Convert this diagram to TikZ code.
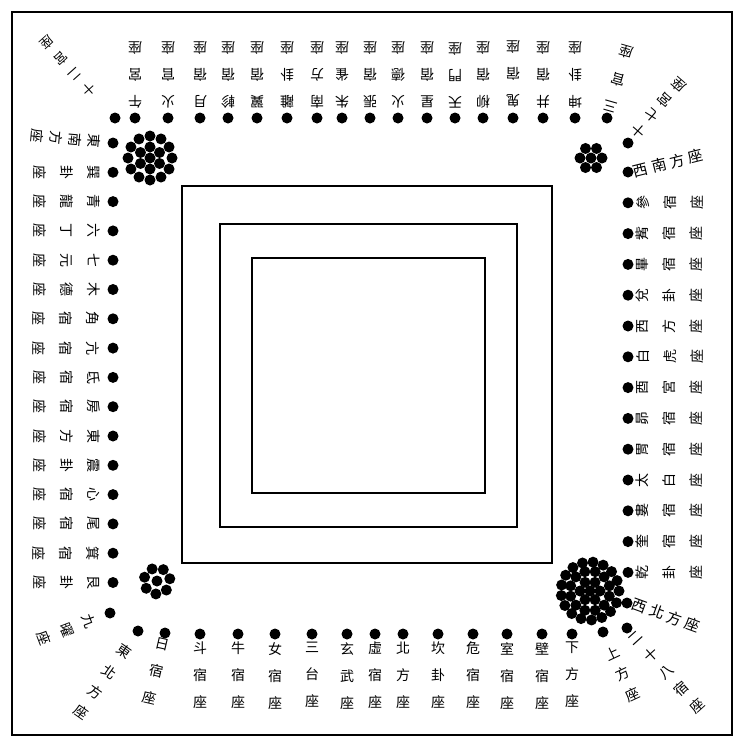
\documentclass[tikz,border=0pt]{standalone}
\usepackage{fontspec}
\newfontfamily\cjk{Noto Sans CJK TC}
\usetikzlibrary{calc}

\tikzset{
  dot/.style={circle, fill=black, inner sep=0pt, minimum size=11pt},
  seat/.style={font=\cjk\fontsize{14}{27}\selectfont, align=center, inner sep=0pt, anchor=north},
  tight/.style={font=\cjk\fontsize{14}{#1}\selectfont},
  flat/.style={font=\cjk\fontsize{15}{15}\selectfont, inner sep=0pt, anchor=west},
  wall/.style={line width=2pt},
}

\begin{document}
\begin{tikzpicture}[x=1pt, y=-1pt]
\useasboundingbox (0,0) rectangle (747,742);

% --- FRAME AND ALTAR ---
\draw[line width=2.6pt] (12,12) rectangle (732,735);
\draw[wall] (182,186) rectangle (552,563);
\draw[wall] (220,224) rectangle (517,527);
\draw[wall] (252,258) rectangle (485,493);

% --- TOP ROW (south) ---
\foreach \x/\t [count=\i] in {135/{午\\宮\\座}, 168/{火\\官\\座}, 200/{月\\宿\\座}, 228/{軫\\宿\\座},
    257/{翼\\宿\\座}, 287/{離\\卦\\座}, 317/{南\\方\\座}, 342/{朱\\雀\\座}, 370/{張\\宿\\座},
    398/{火\\德\\座}, 427/{星\\宿\\座}, 455/{天\\門\\座}, 483/{柳\\宿\\座}, 513/{鬼\\宿\\座},
    543/{井\\宿\\座}, 575/{坤\\卦\\座}}{
  \node[dot] (t\i) at (\x,118) {};
  \node[seat, rotate=180] (tl\i) at ([yshift=10pt]t\i.center) {\t};
}

% --- LEFT COLUMN (east) ---
\foreach \t [count=\i] in {{巽\\卦\\座}, {青\\龍\\座}, {六\\丁\\座}, {七\\元\\座}, {木\\德\\座},
    {角\\宿\\座}, {亢\\宿\\座}, {氐\\宿\\座}, {房\\宿\\座}, {東\\方\\座}, {震\\卦\\座},
    {心\\宿\\座}, {尾\\宿\\座}, {箕\\宿\\座}, {艮\\卦\\座}}{
  \node[dot] (l\i) at (113,{143+29.3*\i}) {};
  \node[seat, rotate=-90] (ll\i) at ([xshift=-13pt]l\i.center) {\t};
}

% --- RIGHT COLUMN (west) ---
\foreach \t [count=\i] in {{參\\宿\\座}, {觜\\宿\\座}, {畢\\宿\\座}, {兌\\卦\\座}, {西\\方\\座},
    {白\\虎\\座}, {酉\\宮\\座}, {昴\\宿\\座}, {胃\\宿\\座}, {太\\白\\座}, {婁\\宿\\座},
    {奎\\宿\\座}, {乾\\卦\\座}}{
  \node[dot] (r\i) at (628,{172+30.8*\i}) {};
  \node[seat, rotate=90] (rl\i) at ([xshift=8pt]r\i.center) {\t};
}

% --- BOTTOM ROW (north) ---
\foreach \x/\t [count=\i] in {200/{斗\\宿\\座}, 238/{牛\\宿\\座}, 275/{女\\宿\\座}, 312/{三\\台\\座},
    347/{玄\\武\\座}, 375/{虛\\宿\\座}, 403/{北\\方\\座}, 438/{坎\\卦\\座}, 473/{危\\宿\\座},
    507/{室\\宿\\座}, 542/{壁\\宿\\座}, 572/{下\\方\\座}}{
  \node[dot] (b\i) at (\x,634) {};
  \node[seat] (bl\i) at ([yshift=-8pt]b\i.center) {\t};
}

% --- CORNER SEATS ---
\node[dot] (nw) at (115,118) {};
\node[seat, font=\cjk\fontsize{13}{21}\selectfont, rotate=222] (nwl) at ([shift={(132:32pt)}]nw.center) {十\\二\\宮\\座};
\node[dot] (se) at (113,143) {};
\node[seat, tight=19, rotate=-95] (sel) at ([shift={(175:12pt)}]se.center) {東\\南\\方\\座};

\node[dot] (ne) at (607,118) {};
\node[seat, tight=29, rotate=164] (nel) at ([shift={(74:6pt)}]ne.center) {三\\官\\座};
\node[dot] (ne2) at (628,143) {};
\node[seat, tight=20, rotate=139] (ne2l) at ([shift={(49:10pt)}]ne2.center) {十\\七\\宮\\座};
\node[dot] (sw) at (628,172) {};
\node[flat, rotate=14] (swl) at ([xshift=5pt]sw.center) {西\hspace{4pt}南\hspace{4pt}方\hspace{4pt}座};

\node[dot] (nwb) at (627,603) {};
\node[flat, rotate=-20] (nwbl) at ([xshift=5pt]nwb.center) {西\hspace{4pt}北\hspace{4pt}方\hspace{4pt}座};
\node[dot] (up) at (603,632) {};
\node[seat, tight=23, rotate=25] (upl) at ([shift={(-65:17pt)}]up.center) {上\\方\\座};
\node[dot] (xs) at (627,628) {};
\node[seat, tight=23, rotate=42] (xsl) at ([shift={(-48:8pt)}]xs.center) {二\\十\\八\\宿\\座};

\node[dot] (jy) at (110,613) {};
\node[seat, tight=24, rotate=-69] (jyl) at ([shift={(201:16pt)}]jy.center) {九\\曜\\座};
\node[dot] (ne3) at (138,631) {};
\node[seat, tight=25, rotate=-35] (ne3l) at ([shift={(235:18pt)}]ne3.center) {東\\北\\方\\座};
\node[dot] (ri) at (165,633) {};
\node[seat, tight=28, rotate=-13] (ril) at ([shift={(257:5pt)}]ri.center) {日\\宿\\座};

% --- STAR CLUSTERS ---
\coordinate (ctl) at (150,158);
\coordinate (ctr) at (591,158);
\coordinate (cbl) at (157,581);
\coordinate (cbr) at (590,591);
\fill (ctl) circle (5.5pt);
\foreach \a in {30,90,...,330} \fill ([shift={(\a:11pt)}]ctl) circle (5.5pt);
\foreach \a in {0,30,...,330} \fill ([shift={(\a:22pt)}]ctl) circle (5.5pt);
\fill (ctr) circle (5.5pt);
\foreach \a in {0,60,...,300} \fill ([shift={(\a:11pt)}]ctr) circle (5.5pt);
\fill (cbl) circle (5.5pt);
\foreach \a in {10,61,...,320} \fill ([shift={(\a:13pt)}]cbl) circle (5.5pt);
\fill (cbr) circle (5.5pt);
\foreach \a in {0,60,...,300} \fill ([shift={(\a:10pt)}]cbr) circle (5.5pt);
\foreach \a in {15,45,...,345} \fill ([shift={(\a:20pt)}]cbr) circle (5.5pt);
\foreach \a in {0,21,...,340} \fill ([shift={(\a:29pt)}]cbr) circle (5.5pt);
\end{tikzpicture}
\end{document}
